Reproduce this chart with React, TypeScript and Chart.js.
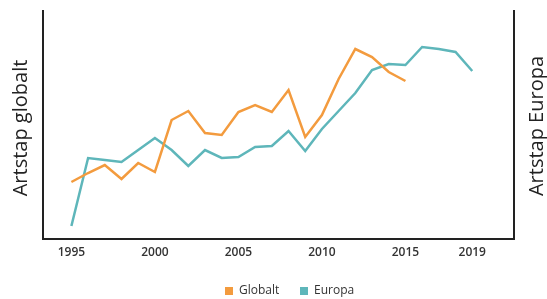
import React, { useEffect, useRef } from "react";
import { Chart, registerables } from "chart.js";

Chart.register(...registerables);

const years = [1995, 1996, 1997, 1998, 1999, 2000, 2001, 2002, 2003, 2004, 2005, 2006, 2007, 2008, 2009, 2010, 2011, 2012, 2013, 2014, 2015, 2016, 2017, 2018, 2019];
const globalt = [57, 66, 74, 60, 76, 67, 119, 128, 106, 104, 127, 134, 127, 149, 102, 124, 160, 190, 182, 167, 158];
const europa = [13, 81, 79, 77, 89, 101, 89, 73, 89, 81, 82, 92, 93, 108, 88, 110, 128, 146, 169, 175, 174, 192, 190, 187, 168];
const tickYears = [1995, 2000, 2005, 2010, 2015, 2019];
const leftTitle = "Artstap globalt";
const rightTitle = "Artstap Europa";
const seriesNames = ["Globalt", "Europa"];
const colors = ["#F39B3E", "#5EB6BA"];

const FONT = "'Open Sans', 'Noto Sans', sans-serif";

const decorPlugin = {
  id: "decor",
  afterDraw(chart: any) {
    const ctx = chart.ctx;
    const area = chart.chartArea;
    ctx.save();
    // axis titles
    ctx.fillStyle = "#222";
    ctx.font = `20px ${FONT}`;
    ctx.textAlign = "center";
    ctx.textBaseline = "alphabetic";
    const cy = (area.top + area.bottom) / 2 + 3;
    ctx.save();
    ctx.translate(27, cy);
    ctx.rotate(-Math.PI / 2);
    ctx.fillText(leftTitle, 0, 0);
    ctx.restore();
    ctx.save();
    ctx.translate(543, cy - 2);
    ctx.rotate(-Math.PI / 2);
    ctx.fillText(rightTitle, 0, 0);
    ctx.restore();
    // legend
    ctx.font = `12px ${FONT}`;
    ctx.textAlign = "left";
    ctx.textBaseline = "middle";
    const ly = 291;
    const xs = [225, 300];
    seriesNames.forEach((n, i) => {
      ctx.fillStyle = colors[i];
      ctx.fillRect(xs[i], ly - 4, 8, 8);
      ctx.fillStyle = "#333";
      ctx.fillText(n, xs[i] + 14, ly);
    });
    ctx.restore();
  },
};

export default function App() {
  const ref = useRef<HTMLCanvasElement>(null);
  useEffect(() => {
    document.body.style.margin = "0";
    const chart = new Chart(ref.current!, {
      type: "line",
      data: {
        datasets: [
          {
            label: seriesNames[0],
            data: globalt.map((v, i) => ({ x: years[i], y: v })),
            borderColor: colors[0],
            backgroundColor: colors[0],
            borderWidth: 2.5,
            pointRadius: 0,
            tension: 0,
            yAxisID: "y",
          },
          {
            label: seriesNames[1],
            data: europa.map((v, i) => ({ x: years[i], y: v })),
            borderColor: colors[1],
            backgroundColor: colors[1],
            borderWidth: 2.5,
            pointRadius: 0,
            tension: 0,
            yAxisID: "y2",
          },
        ],
      },
      options: {
        responsive: false,
        animation: false,
        layout: { padding: { top: 11, left: 0, right: 0, bottom: 0 } },
        plugins: { legend: { display: false }, tooltip: { enabled: false } },
        scales: {
          x: {
            type: "linear",
            min: 1993.3,
            max: 2021.5,
            grid: { display: false, drawTicks: false },
            border: { display: true, color: "#222", width: 2 },
            afterBuildTicks: (s: any) => {
              s.ticks = tickYears.map((v) => ({ value: v }));
            },
            afterFit: (s: any) => {
              s.height = 60;
            },
            ticks: {
              autoSkip: false,
              maxRotation: 0,
              padding: 6,
              color: "#333",
              font: { family: FONT, size: 12, weight: "600" },
              callback: (v: any) => String(v),
            },
          },
          y: {
            position: "left",
            min: 0,
            max: 228,
            grid: { display: false, drawTicks: false },
            border: { display: true, color: "#222", width: 2 },
            ticks: { display: false },
            afterFit: (s: any) => {
              s.width = 43;
            },
          },
          y2: {
            position: "right",
            min: 0,
            max: 228,
            grid: { display: false, drawTicks: false },
            border: { display: true, color: "#222", width: 2 },
            ticks: { display: false },
            afterFit: (s: any) => {
              s.width = 33;
            },
          },
        },
      } as any,
      plugins: [decorPlugin],
    });
    return () => chart.destroy();
  }, []);
  return (
    <div style={{ width: 547, height: 299 }}>
      <canvas ref={ref} width={547} height={299} style={{ display: "block" }} />
    </div>
  );
}
